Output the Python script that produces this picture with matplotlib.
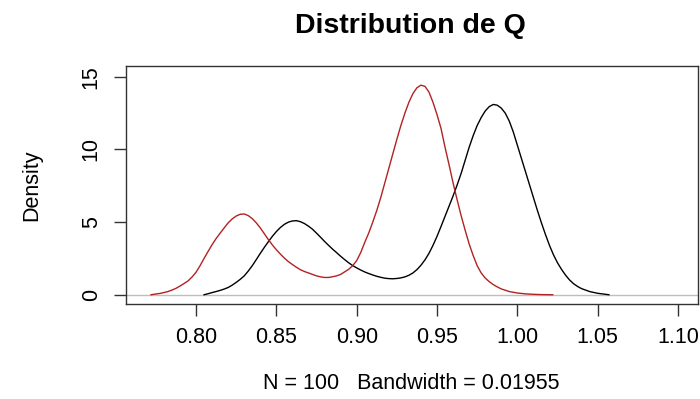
import matplotlib
matplotlib.use('agg')
from matplotlib import pyplot as plt

plt.rcParams['font.family'] = ['Liberation Sans', 'DejaVu Sans']

# density of Q, two series (values read at chosen abscissas)
q_red = [0.772, 0.775, 0.7775, 0.780, 0.7825, 0.785, 0.7875, 0.790, 0.7925, 0.795,
         0.7975, 0.800, 0.8025, 0.805, 0.8075, 0.810, 0.8125, 0.815, 0.8175, 0.820,
         0.8225, 0.825, 0.8275, 0.830, 0.8325, 0.835, 0.8375, 0.840, 0.8425, 0.845,
         0.8475, 0.850, 0.8525, 0.855, 0.8575, 0.860, 0.8625, 0.865, 0.8675, 0.870,
         0.875, 0.8775, 0.880, 0.8825, 0.885, 0.8875, 0.890, 0.895, 0.8975, 0.900,
         0.9025, 0.905, 0.9075, 0.910, 0.9125, 0.915, 0.9175, 0.920, 0.9225, 0.925,
         0.9275, 0.930, 0.9325, 0.935, 0.9375, 0.940, 0.9425, 0.945, 0.9475, 0.950,
         0.9525, 0.955, 0.9575, 0.960, 0.9625, 0.965, 0.9675, 0.970, 0.9725, 0.975,
         0.9775, 0.980, 0.9825, 0.985, 0.9875, 0.990, 0.995, 1.000, 1.005, 1.010,
         1.015, 1.022]
dens_red = [0.0, 0.05, 0.09, 0.15, 0.22, 0.32, 0.44, 0.60, 0.77, 0.95,
            1.22, 1.55, 2.00, 2.50, 2.98, 3.45, 3.87, 4.24, 4.60, 4.95,
            5.22, 5.42, 5.54, 5.56, 5.45, 5.24, 4.95, 4.60, 4.20, 3.80,
            3.43, 3.10, 2.80, 2.52, 2.28, 2.08, 1.89, 1.72, 1.60, 1.50,
            1.30, 1.23, 1.19, 1.19, 1.24, 1.30, 1.40, 1.75, 2.00, 2.35,
            2.90, 3.60, 4.25, 5.00, 5.80, 6.70, 7.70, 8.70, 9.70, 10.7,
            11.65, 12.5, 13.25, 13.85, 14.25, 14.43, 14.35, 13.95, 13.25, 12.4,
            11.45, 10.15, 8.95, 7.70, 6.55, 5.45, 4.45, 3.50, 2.70, 2.00,
            1.50, 1.15, 0.90, 0.70, 0.54, 0.40, 0.22, 0.12, 0.06, 0.03,
            0.01, 0.0]

q_black = [0.805, 0.8075, 0.810, 0.8125, 0.815, 0.8175, 0.820, 0.8225, 0.825, 0.8275,
           0.830, 0.8325, 0.835, 0.8375, 0.840, 0.8425, 0.845, 0.8475, 0.850, 0.8525,
           0.855, 0.8575, 0.860, 0.8625, 0.865, 0.8675, 0.870, 0.8725, 0.875, 0.8775,
           0.880, 0.8825, 0.885, 0.8875, 0.890, 0.8925, 0.895, 0.8975, 0.900, 0.9025,
           0.905, 0.9075, 0.910, 0.9125, 0.915, 0.9175, 0.920, 0.9225, 0.925, 0.9275,
           0.930, 0.9325, 0.935, 0.9375, 0.940, 0.9425, 0.945, 0.9475, 0.950, 0.9525,
           0.955, 0.9575, 0.960, 0.9625, 0.965, 0.9675, 0.970, 0.9725, 0.975, 0.9775,
           0.980, 0.9825, 0.985, 0.9875, 0.990, 0.9925, 0.995, 0.9975, 1.000, 1.0025,
           1.005, 1.0075, 1.010, 1.0125, 1.015, 1.0175, 1.020, 1.0225, 1.025, 1.0275,
           1.030, 1.0325, 1.035, 1.0375, 1.040, 1.045, 1.050, 1.057]
dens_black = [0.0, 0.07, 0.15, 0.22, 0.30, 0.39, 0.50, 0.66, 0.85, 1.06,
              1.30, 1.63, 2.00, 2.42, 2.85, 3.26, 3.65, 4.02, 4.35, 4.63,
              4.85, 5.00, 5.08, 5.10, 5.03, 4.90, 4.72, 4.51, 4.24, 3.96,
              3.67, 3.40, 3.14, 2.90, 2.65, 2.42, 2.20, 2.01, 1.85, 1.70,
              1.57, 1.46, 1.36, 1.27, 1.20, 1.14, 1.11, 1.10, 1.12, 1.16,
              1.23, 1.34, 1.50, 1.73, 2.03, 2.40, 2.85, 3.40, 4.02, 4.70,
              5.40, 6.10, 6.80, 7.55, 8.35, 9.25, 10.15, 10.95, 11.65, 12.2,
              12.65, 12.95, 13.1, 13.05, 12.85, 12.5, 11.95, 11.2, 10.3, 9.4,
              8.5, 7.6, 6.7, 5.8, 4.95, 4.15, 3.4, 2.75, 2.2, 1.75,
              1.35, 1.02, 0.76, 0.57, 0.42, 0.22, 0.10, 0.0]

xticks = [0.80, 0.85, 0.90, 0.95, 1.00, 1.05, 1.10]
yticks = [0, 5, 10, 15]

fig = plt.figure(figsize=(7, 3.99), dpi=100)
ax = fig.add_axes([0.18, 0.238, 0.817, 0.597])

ax.axhline(0, color='#bebebe', linewidth=1)
ax.plot(q_black, dens_black, color='black', linewidth=1)
ax.plot(q_red, dens_red, color='#b22222', linewidth=1)

ax.set_xlim(0.7564, 1.1124)
ax.set_ylim(-0.64, 15.76)

ax.set_xticks(xticks)
ax.set_xticklabels([f'{v:.2f}' for v in xticks], fontsize=15.5)
ax.set_yticks(yticks)
ax.set_yticklabels([str(v) for v in yticks], fontsize=15.5, rotation=90, va='center')
ax.tick_params(axis='both', length=8.5, width=1, color='#333333')
ax.tick_params(axis='x', pad=8)
ax.tick_params(axis='y', pad=9)
for s in ax.spines.values():
    s.set_color('#333333')
    s.set_linewidth(1)

fig.text(0.587, 0.935, 'Distribution de Q', ha='center', va='center',
         fontsize=20.5, fontweight='bold')
fig.text(0.587, 0.04, 'N = 100   Bandwidth = 0.01955', ha='center', va='center',
         fontsize=15.5)
fig.text(0.045, 0.536, 'Density', ha='center', va='center', rotation=90,
         fontsize=15.5)

fig.savefig('out.png', dpi=100)
